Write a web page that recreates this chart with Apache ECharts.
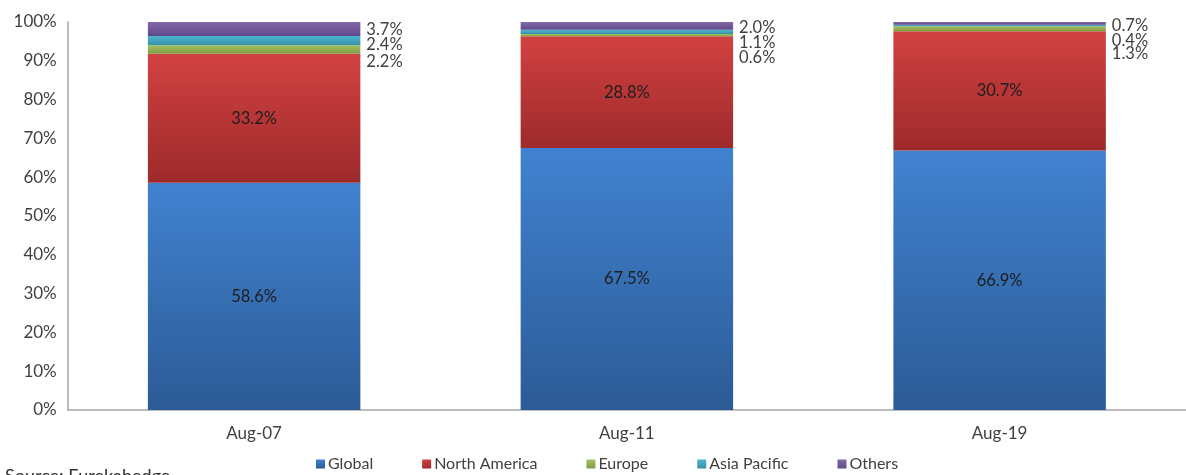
<!DOCTYPE html>
<html>
<head>
<meta charset="utf-8">
<title>Hedge fund assets by region</title>
<script src="https://cdn.jsdelivr.net/npm/echarts@6/dist/echarts.min.js"></script>
<style>
  html, body { margin: 0; padding: 0; background: #ffffff; }
  #chart { width: 1186px; height: 475px; }
</style>
</head>
<body>
<div id="chart"></div>
<script>
// Share of assets by investment region (percent)
const categories = ['Aug-07', 'Aug-11', 'Aug-19'];
const globalShare = [58.6, 67.5, 66.9];
const northAmerica = [33.2, 28.8, 30.7];
const europe = [2.2, 0.6, 1.3];
const asiaPacific = [2.4, 1.1, 0.4];
const others = [3.7, 2.0, 0.7];
const yTicks = [0, 10, 20, 30, 40, 50, 60, 70, 80, 90, 100];

// Vertical nudges so the small-segment labels stack neatly beside each bar
const europeLabelShift = [12, 22, 25];
const asiaLabelShift = [4, 11, 15];
const othersLabelShift = [1, 2, 2];

const FONT = 'Lato, "Open Sans", sans-serif';
const TEXT = '#404040';

function grad(top, bottom) {
  return new echarts.graphic.LinearGradient(0, 0, 0, 1, [
    { offset: 0, color: top },
    { offset: 1, color: bottom }
  ]);
}

const fmt = v => v.toFixed(1) + '%';

function insideSeries(name, values, top, bottom, legendColor) {
  return {
    name: name,
    type: 'bar',
    stack: 'share',
    barWidth: '57%',
    color: legendColor,
    itemStyle: { color: grad(top, bottom) },
    label: {
      show: true,
      position: 'inside',
      fontFamily: FONT,
      fontSize: 16.5,
      color: '#1e1e1e',
      formatter: p => fmt(p.value)
    },
    emphasis: { disabled: true },
    data: values
  };
}

function sideSeries(name, values, shifts, top, bottom, legendColor) {
  return {
    name: name,
    type: 'bar',
    stack: 'share',
    barWidth: '57%',
    color: legendColor,
    itemStyle: { color: grad(top, bottom) },
    emphasis: { disabled: true },
    data: values.map((v, i) => ({
      value: v,
      label: {
        show: true,
        position: 'right',
        distance: 6,
        offset: [0, shifts[i]],
        fontFamily: FONT,
        fontSize: 16.5,
        color: TEXT,
        formatter: p => fmt(p.value)
      }
    }))
  };
}

const chart = echarts.init(document.getElementById('chart'), null, { renderer: 'canvas' });

chart.setOption({
  animation: false,
  backgroundColor: '#ffffff',
  grid: { left: 67.75, right: -5.25, top: 22, bottom: 65, containLabel: false },
  legend: {
    left: 311,
    top: 451,
    icon: 'rect',
    itemWidth: 9,
    itemHeight: 9,
    itemGap: 49,
    textStyle: { fontFamily: FONT, fontSize: 16, color: TEXT, padding: [0, 0, 0, -2] },
    data: ['Global', 'North America', 'Europe', 'Asia Pacific', 'Others']
  },
  xAxis: {
    type: 'category',
    data: categories,
    axisLine: { show: true, lineStyle: { color: '#a6a6a6', width: 1.5 } },
    axisTick: { show: false },
    axisLabel: { fontFamily: FONT, fontSize: 17, color: TEXT, margin: 15 },
    splitLine: { show: false }
  },
  yAxis: {
    type: 'value',
    min: yTicks[0],
    max: yTicks[yTicks.length - 1],
    interval: yTicks[1] - yTicks[0],
    axisLine: { show: true, lineStyle: { color: '#a6a6a6', width: 1.5 } },
    axisTick: { show: false },
    splitLine: { show: false },
    axisLabel: {
      fontFamily: FONT,
      fontSize: 17,
      color: TEXT,
      margin: 11,
      formatter: v => v + '%'
    }
  },
  graphic: [{
    type: 'text',
    left: 5,
    top: 467,
    style: { text: 'Source: Eurekahedge', font: '18px ' + FONT, fill: '#333333' }
  }],
  series: [
    insideSeries('Global', globalShare, '#4182d0', '#2c5b96', '#3a73bb'),
    insideSeries('North America', northAmerica, '#d24141', '#9e2a2b', '#c83a3a'),
    sideSeries('Europe', europe, europeLabelShift, '#a4c25f', '#7f9c45', '#94b657'),
    sideSeries('Asia Pacific', asiaPacific, asiaLabelShift, '#4cb5d0', '#3a8fa8', '#45a9c6'),
    sideSeries('Others', others, othersLabelShift, '#8468a8', '#60498a', '#7a5ba5')
  ]
});
</script>
</body>
</html>
